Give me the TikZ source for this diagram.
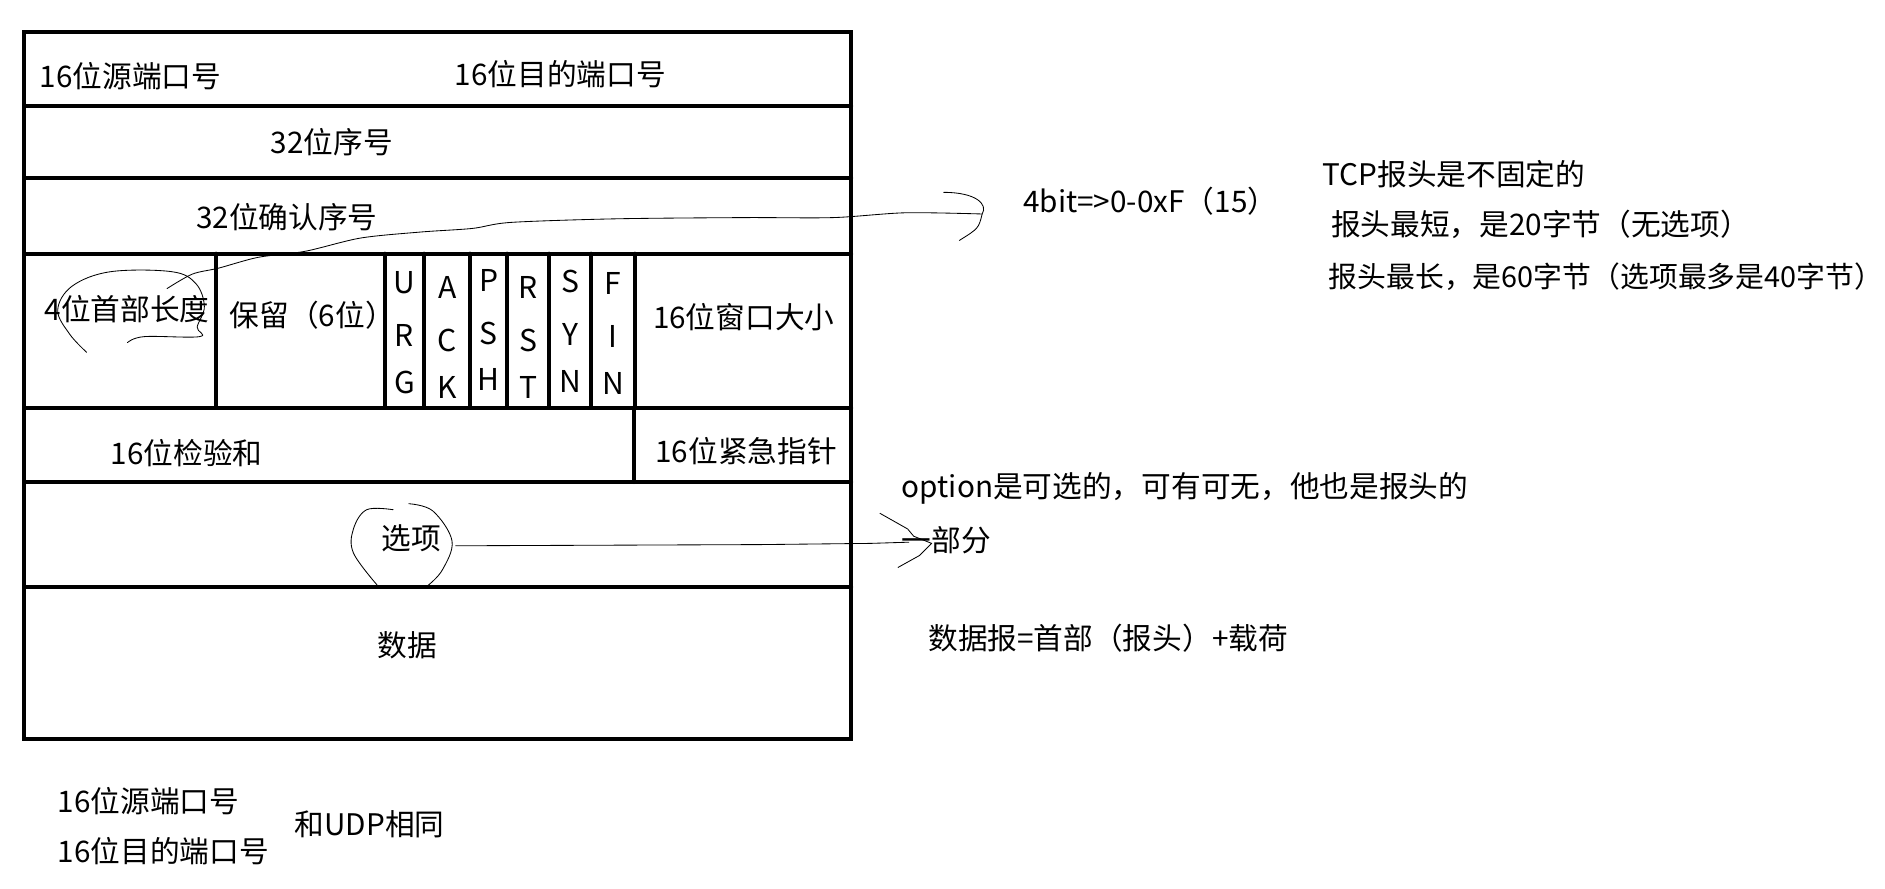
\documentclass[tikz,border=0pt]{standalone}
\usepackage{fontspec}
\setmainfont{Noto Sans CJK SC}
\usetikzlibrary{positioning}

\tikzset{
  frame/.style={line width=3.3pt, line cap=round},
  pen/.style={line width=0.7pt, line cap=round, line join=round},
  txt/.style={font=\fontsize{24.7}{29}\selectfont, inner sep=0pt, anchor=west},
  flag/.style={font=\fontsize{25}{29}\selectfont, inner sep=0pt}
}

\begin{document}
\begin{tikzpicture}[x=1pt, y=-1pt]
    \useasboundingbox (0,0) rectangle (1568,739);
    % header frame
    \draw[frame] (20,27) rectangle (708,615);
    \foreach \y in {88,148,211,339,401,488}
        \draw[frame] (20,\y) -- (708,\y);
    \foreach \x in {180,320,353,391,422,457,492,528}
        \draw[frame] (\x,211) -- (\x,339);
    \draw[frame] (527,339) -- (527,401);

    \node[txt] (srcport) at (33,63) {16位源端口号};
    \node[txt] (dstport) at (378,62) {16位目的端口号};
    \node[txt] (seqno) at (225,118) {32位序号};
    \node[txt] (ackno) at (163,181) {32位确认序号};
    \node[txt] (hlen) at (37,257) {4位首部长度};
    \node[txt] (rsv) at (191,262) {保留（6位）};
    \node[txt] (win) at (543,264) {16位窗口大小};
    \node[txt] (csum) at (92,377) {16位检验和};
    \node[txt] (urgptr) at (545,375) {16位紧急指针};
    \node[txt] (opt) at (317,448) {选项};
    \node[txt] (data) at (314,537) {数据};

    \foreach \x/\a/\b/\c/\dy [count=\i] in {336.5/U/R/G/0, 372/A/C/K/4, 406.5/P/S/H/-2,
        439.5/R/S/T/4, 474.5/S/Y/N/-1, 510/F/I/N/1} {
        \node[flag] (flag\i a) at (\x,235+\dy) {\a};
        \node[flag] (flag\i b) at (\x,279+\dy) {\b};
        \node[flag] (flag\i c) at (\x,318+\dy) {\c};
    }

    % notes
    \node[txt] (bitnote) at (851,167) {4bit=>0-0xF（15）};
    \node[txt] (tcpa) at (1100,145) {TCP报头是不固定的};
    \node[txt] (tcpb) at (1107,187) {报头最短，是20字节（无选项）};
    \node[txt, font=\fontsize{24}{29}\selectfont] (tcpc) at (1105,230)
        {报头最长，是60字节（选项最多是40字节）\kern-0.5em};
    \node[txt] (optnote) at (750,406) {option是可选的，可有可无，他也是报头的};
    \node[txt] (optnoteb) at (750,449) {一部分};
    \node[txt] (dgram) at (772,531) {数据报=首部（报头）+载荷};
    \node[txt] (udpa) at (48,666) {16位源端口号};
    \node[txt] (udpb) at (48,708) {16位目的端口号};
    \node[txt] (udpc) at (245,686) {和UDP相同};

    % hand marks
    \coordinate (hlenmark) at (139,240);
    \coordinate (brk) at (817,178);
    \coordinate (optmark) at (379,454);
    \coordinate (tip) at (775,452);
    \draw[pen] plot[smooth, tension=0.6] coordinates {(72,293) (58,278) (48,258) (60,238) (92,226)
        (143,226) (163,236) (170,255) (164,272) (166,280) (120,280) (106,285)};
    \draw[pen] plot[smooth, tension=0.5] coordinates {(hlenmark) (160,228) (182,223) (215,214)
        (254,209) (300,198) (350,193) (393,190) (425,185) (513,182) (620,181) (693,181) (753,177) (brk)};
    \draw[pen] (785,160) .. controls (812,160) and (822,170) .. (brk)
        .. controls (814,190) .. (798,200);
    \draw[pen] plot[smooth, tension=0.6] coordinates {(327,424) (305,424) (294,440) (294,460) (314,487)};
    \draw[pen] plot[smooth, tension=0.6] coordinates {(340,419) (360,425) (376,450) (368,474) (356,487)};
    \draw[pen] (optmark) -- (633,453) -- (724,452) -- (756,451);
    \draw[pen] (732,427) -- (755,440) -- (760,446) -- (tip) -- (765,462) -- (747,472);
\end{tikzpicture}
\end{document}
